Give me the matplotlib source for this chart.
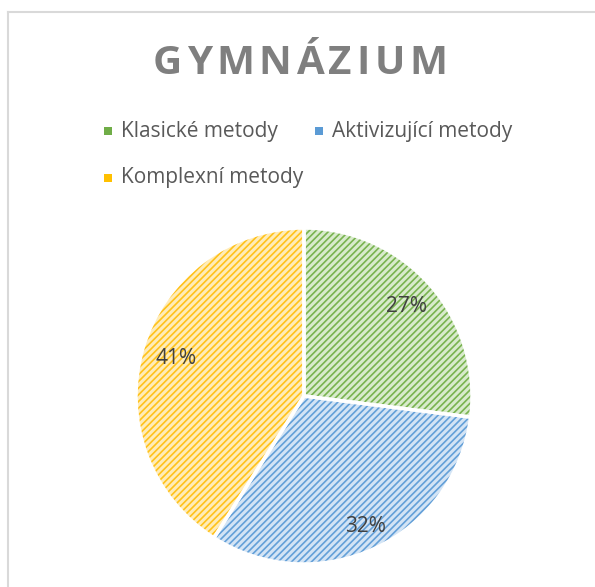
import matplotlib
matplotlib.use("Agg")
import matplotlib.pyplot as plt
from matplotlib.lines import Line2D
from matplotlib.patches import Rectangle
import numpy as np

title = "GYMNÁZIUM"
categories = ["Klasické metody", "Aktivizující metody", "Komplexní metody"]
values = [27, 32, 41]
labels = ["27%", "32%", "41%"]

face_colors = ["#d8ebcc", "#d3e4f5", "#ffecb8"]
hatch_colors = ["#78b34f", "#63a0d8", "#ffc21a"]
legend_colors = ["#70ad47", "#5b9bd5", "#ffc000"]

plt.rcParams['font.family'] = ['Open Sans', 'DejaVu Sans']
plt.rcParams['hatch.linewidth'] = 1.2

W, H = 595, 587
fig = plt.figure(figsize=(W / 100, H / 100), dpi=100)
fig.patch.set_facecolor("white")

# chart border (top and left visible)
fig.add_artist(Line2D([7.5 / W, 7.5 / W], [0, 1 - 11.5 / H], color="#d9d9d9", lw=1.5, transform=fig.transFigure))
fig.add_artist(Line2D([7.5 / W, 1], [1 - 11.5 / H, 1 - 11.5 / H], color="#d9d9d9", lw=1.5, transform=fig.transFigure))

# Title with letter spacing
fig.canvas.draw()
renderer = fig.canvas.get_renderer()
tsize = 29
spacing = 4.5  # px
widths = []
for ch in title:
    t = fig.text(0, 0, ch, fontsize=tsize, fontweight="bold")
    widths.append(t.get_window_extent(renderer).width)
    t.remove()
total = sum(widths) + spacing * (len(title) - 1)
x = 300 - total / 2
for ch, w in zip(title, widths):
    fig.text(x / W, 1 - 63 / H, ch, fontsize=tsize, fontweight="bold", color="#7f7f7f",
             ha="left", va="center")
    x += w + spacing

# Legend
leg_pos = [(104, 131), (315, 131), (104, 178)]
for (lx, ly), name, c in zip(leg_pos, categories, legend_colors):
    fig.add_artist(Rectangle((lx / W, 1 - (ly + 4) / H), 8 / W, 8 / H, facecolor=c,
                             edgecolor="none", transform=fig.transFigure))
    fig.text((lx + 17) / W, 1 - ly / H, name, fontsize=15, color="#595959",
             ha="left", va="center")

# Pie
cx, cy, r = 304, 396, 168
ax = fig.add_axes([(cx - r) / W, 1 - (cy + r) / H, 2 * r / W, 2 * r / H])
# base fill
base, _ = ax.pie(values, startangle=90, counterclock=False,
                 colors=face_colors, wedgeprops=dict(linewidth=0))
# hatch overlay
hat, _ = ax.pie(values, startangle=90, counterclock=False,
                wedgeprops=dict(linewidth=0, fill=False))
for wdg, hc in zip(hat, hatch_colors):
    wdg.set_edgecolor(hc)
    wdg.set_hatch("/////")
    wdg.set_linewidth(0)
# white separators
sep, _ = ax.pie(values, startangle=90, counterclock=False,
                wedgeprops=dict(linewidth=2.5, edgecolor="white", fill=False))

label_dist = [0.81, 0.86, 0.79]
cum = np.cumsum([0] + values)
total_v = sum(values)
for i, lab in enumerate(labels):
    mid = 90 - (cum[i] + values[i] / 2) / total_v * 360
    a = np.deg2rad(mid)
    ax.text(label_dist[i] * np.cos(a), label_dist[i] * np.sin(a), lab, fontsize=15,
            color="#404040", ha="center", va="center")
ax.set_xlim(-1, 1)
ax.set_ylim(-1, 1)
ax.set_aspect("equal")

fig.savefig("out.png", dpi=100, facecolor="white")
